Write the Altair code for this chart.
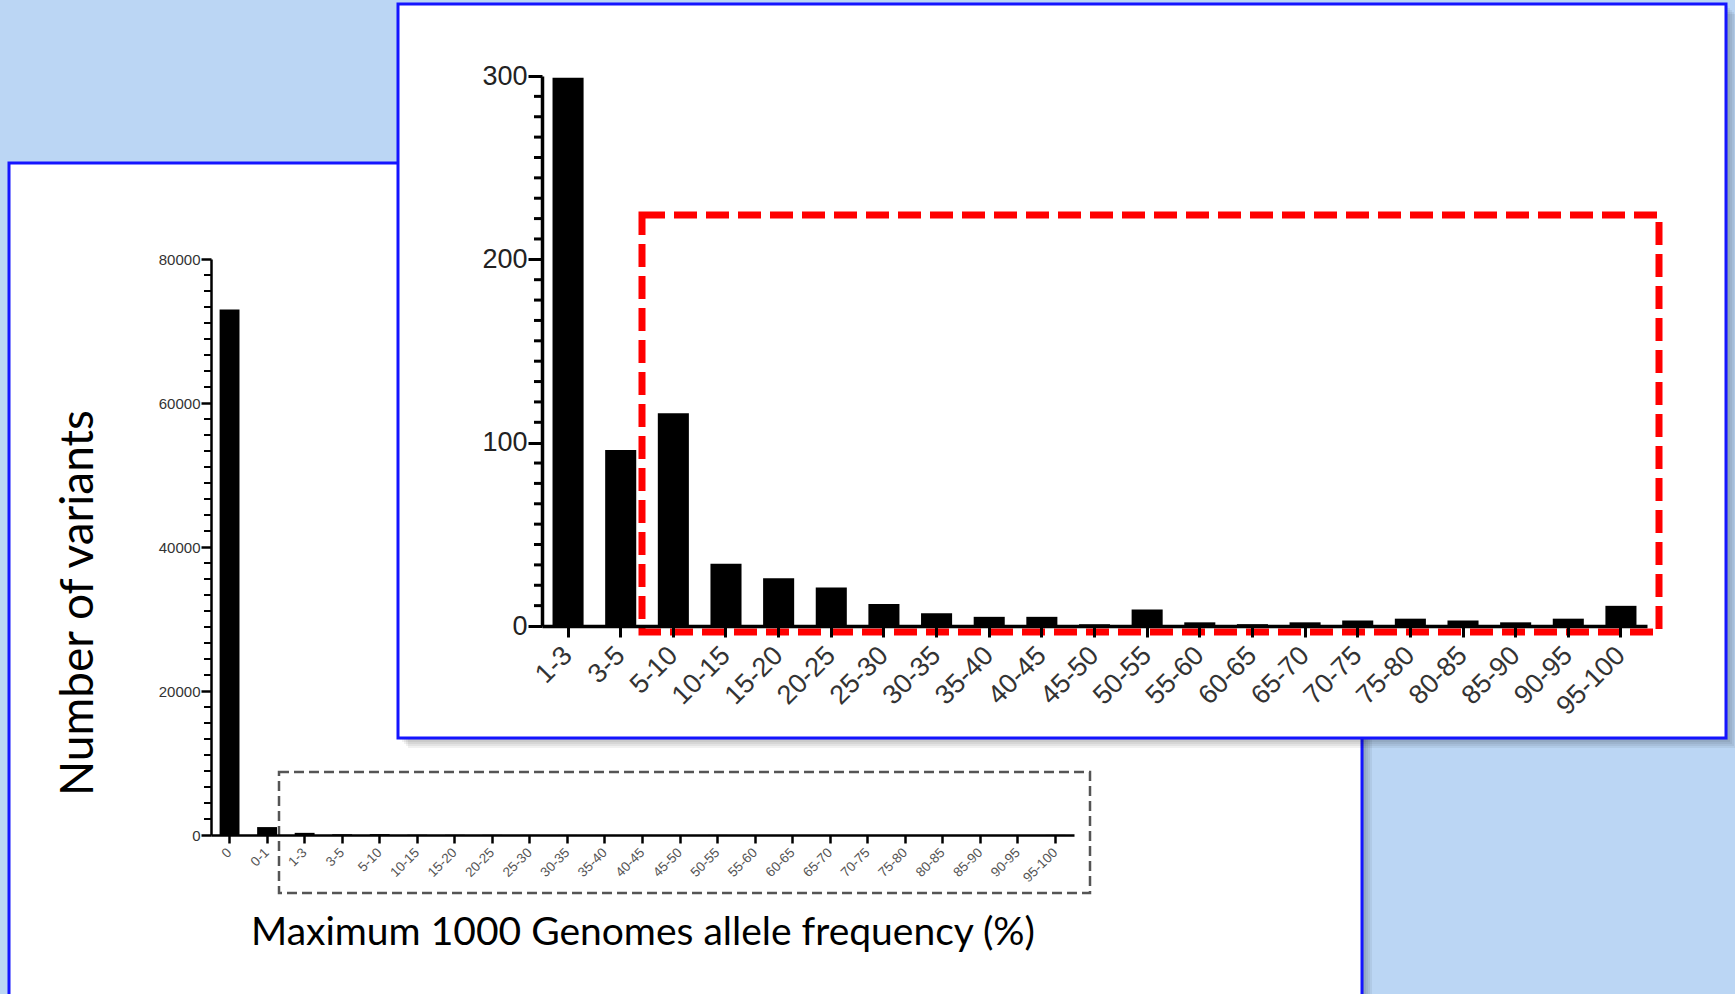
import altair as alt
import pandas as pd

# ---------------- data ----------------
main_categories = ["0", "0-1", "1-3", "3-5", "5-10", "10-15", "15-20", "20-25", "25-30",
                   "30-35", "35-40", "40-45", "45-50", "50-55", "55-60", "60-65", "65-70",
                   "70-75", "75-80", "80-85", "85-90", "90-95", "95-100"]
main_values = [73000, 1100, 299, 96, 116, 34, 26, 21, 12, 7, 5, 5, 1, 9, 2, 1, 2, 3, 4, 3, 2, 4, 11]

inset_categories = ["1-3", "3-5", "5-10", "10-15", "15-20", "20-25", "25-30", "30-35", "35-40",
                    "40-45", "45-50", "50-55", "55-60", "60-65", "65-70", "70-75", "75-80",
                    "80-85", "85-90", "90-95", "95-100"]
inset_values = [299, 96, 116, 34, 26, 21, 12, 7, 5, 5, 1, 9, 2, 1, 2, 3, 4, 3, 2, 4, 11]

main_y_ticks = [0, 20000, 40000, 60000, 80000]
inset_y_ticks = [0, 100, 200, 300]
main_minor = [i * 20000 / 9 for i in range(37) if i % 9 != 0]
inset_minor = [i * 100 / 9 for i in range(28) if i % 9 != 0]

x_title = "Maximum 1000 Genomes allele frequency (%)"
y_title = "Number of variants"

W, H = 1735, 994
BG = "#bbd6f4"
BLUE = "#1414ff"

one = pd.DataFrame({"k": [0]})


def box(x, x2, y, y2, **kw):
    return alt.Chart(one).mark_rect(**kw).encode(
        x=alt.value(x), x2=alt.value(x2), y=alt.value(y), y2=alt.value(y2))


def shadow(x, x2, y, y2):
    return [box(x + d, x2 + d, y + d, y2 + d, fill="#000000", opacity=0.055) for d in (2, 4, 6, 8, 10)]


# ---------------- main chart ----------------
main_df = pd.DataFrame({"cat": main_categories, "n": main_values})
main_x = alt.Scale(domain=main_categories, range=[211, 1074], paddingInner=0.47, paddingOuter=0.229)
main_y = alt.Scale(domain=[0, 80000], range=[835, 259], nice=False, zero=True)
main_y_axis = alt.Axis(orient="left", offset=-211, title=None, zindex=1, values=main_y_ticks,
                       format="d", domainColor="black", domainWidth=2.5, tickColor="black",
                       tickWidth=2.5, tickSize=10, labelFont="Liberation Sans",
                       labelFontSize=15, labelColor="#333333", labelPadding=1,
                       labelOverlap=False, grid=False)

main_bars = alt.Chart(main_df).mark_bar(color="black").encode(
    x=alt.X("cat:N", sort=main_categories, scale=main_x,
            axis=alt.Axis(orient="bottom", offset=835 - H, title=None, zindex=1,
                          domainColor="black", domainWidth=2.5, tickColor="black",
                          tickWidth=2.5, tickSize=8, labelAngle=315, labelAlign="right",
                          labelBaseline="middle", labelPadding=7, labelFont="Liberation Sans",
                          labelFontSize=13.5, labelColor="#555555", labelOverlap=False,
                          labelBound=False)),
    y=alt.Y("n:Q", scale=main_y, axis=main_y_axis),
)
main_minor_rules = alt.Chart(pd.DataFrame({"n": main_minor})).mark_rule(
    color="black", strokeWidth=2).encode(
    y=alt.Y("n:Q", scale=main_y, axis=main_y_axis), x=alt.value(204), x2=alt.value(211))

main_layer = alt.layer(main_bars, main_minor_rules)

# ---------------- inset chart ----------------
inset_df = pd.DataFrame({"cat": inset_categories, "n": inset_values})
inset_x = alt.Scale(domain=inset_categories, range=[542, 1647], paddingInner=0.41, paddingOuter=0.2)
inset_y = alt.Scale(domain=[0, 300], range=[626, 76], nice=False, zero=True)
inset_y_axis = alt.Axis(orient="left", offset=-542, title=None, zindex=1, values=inset_y_ticks,
                        format="d", domainColor="black", domainWidth=3.5, tickColor="black",
                        tickWidth=3, tickSize=14, labelFont="Liberation Sans",
                        labelFontSize=27, labelColor="#222222", labelPadding=1,
                        labelOverlap=False, grid=False)

inset_bars = alt.Chart(inset_df).mark_bar(color="black").encode(
    x=alt.X("cat:N", sort=inset_categories, scale=inset_x,
            axis=alt.Axis(orient="bottom", offset=626 - H, title=None, zindex=1,
                          domainColor="black", domainWidth=3.5, tickColor="black",
                          tickWidth=3, tickSize=11, labelAngle=315, labelAlign="right",
                          labelBaseline="middle", labelPadding=14, labelFont="Liberation Sans",
                          labelFontSize=27, labelColor="#333333", labelOverlap=False,
                          labelBound=False)),
    y=alt.Y("n:Q", scale=inset_y, axis=inset_y_axis),
)
inset_minor_rules = alt.Chart(pd.DataFrame({"n": inset_minor})).mark_rule(
    color="black", strokeWidth=3).encode(
    y=alt.Y("n:Q", scale=inset_y, axis=inset_y_axis), x=alt.value(534), x2=alt.value(542))

inset_layer = alt.layer(inset_bars, inset_minor_rules)

# ---------------- titles ----------------
y_title_mark = alt.Chart(one).mark_text(
    text=y_title, font="Lato", fontSize=46, angle=270, align="center",
    baseline="alphabetic", color="black").encode(x=alt.value(93), y=alt.value(603))
x_title_mark = alt.Chart(one).mark_text(
    text=x_title, font="Lato", fontSize=39, align="center",
    baseline="alphabetic", color="black").encode(x=alt.value(643), y=alt.value(945))

# ---------------- assemble ----------------
layers = []
layers += shadow(9, 1362, 163, 1000)
layers.append(box(9, 1362, 163, 1000, fill="white", stroke=BLUE, strokeWidth=3))
layers.append(main_layer)
layers.append(box(279, 1090, 772, 893, stroke="#555555", strokeWidth=2.5,
                  strokeDash=[10, 5], fillOpacity=0))
layers.append(y_title_mark)
layers.append(x_title_mark)
layers += shadow(398, 1726, 4, 738)
layers.append(box(398, 1726, 4, 738, fill="white", stroke=BLUE, strokeWidth=3))
layers.append(inset_layer)
layers.append(box(642, 1659, 215, 632, stroke="#ff0000", strokeWidth=7,
                  strokeDash=[23, 9], fillOpacity=0))

chart = alt.layer(*layers).resolve_scale(x="independent", y="independent").properties(
    width=W, height=H, padding=0, autosize=alt.AutoSizeParams(type="none"),
    background=BG,
).configure_view(stroke=None)

chart.save("out.html", embed_options={"renderer": "svg", "actions": False})
